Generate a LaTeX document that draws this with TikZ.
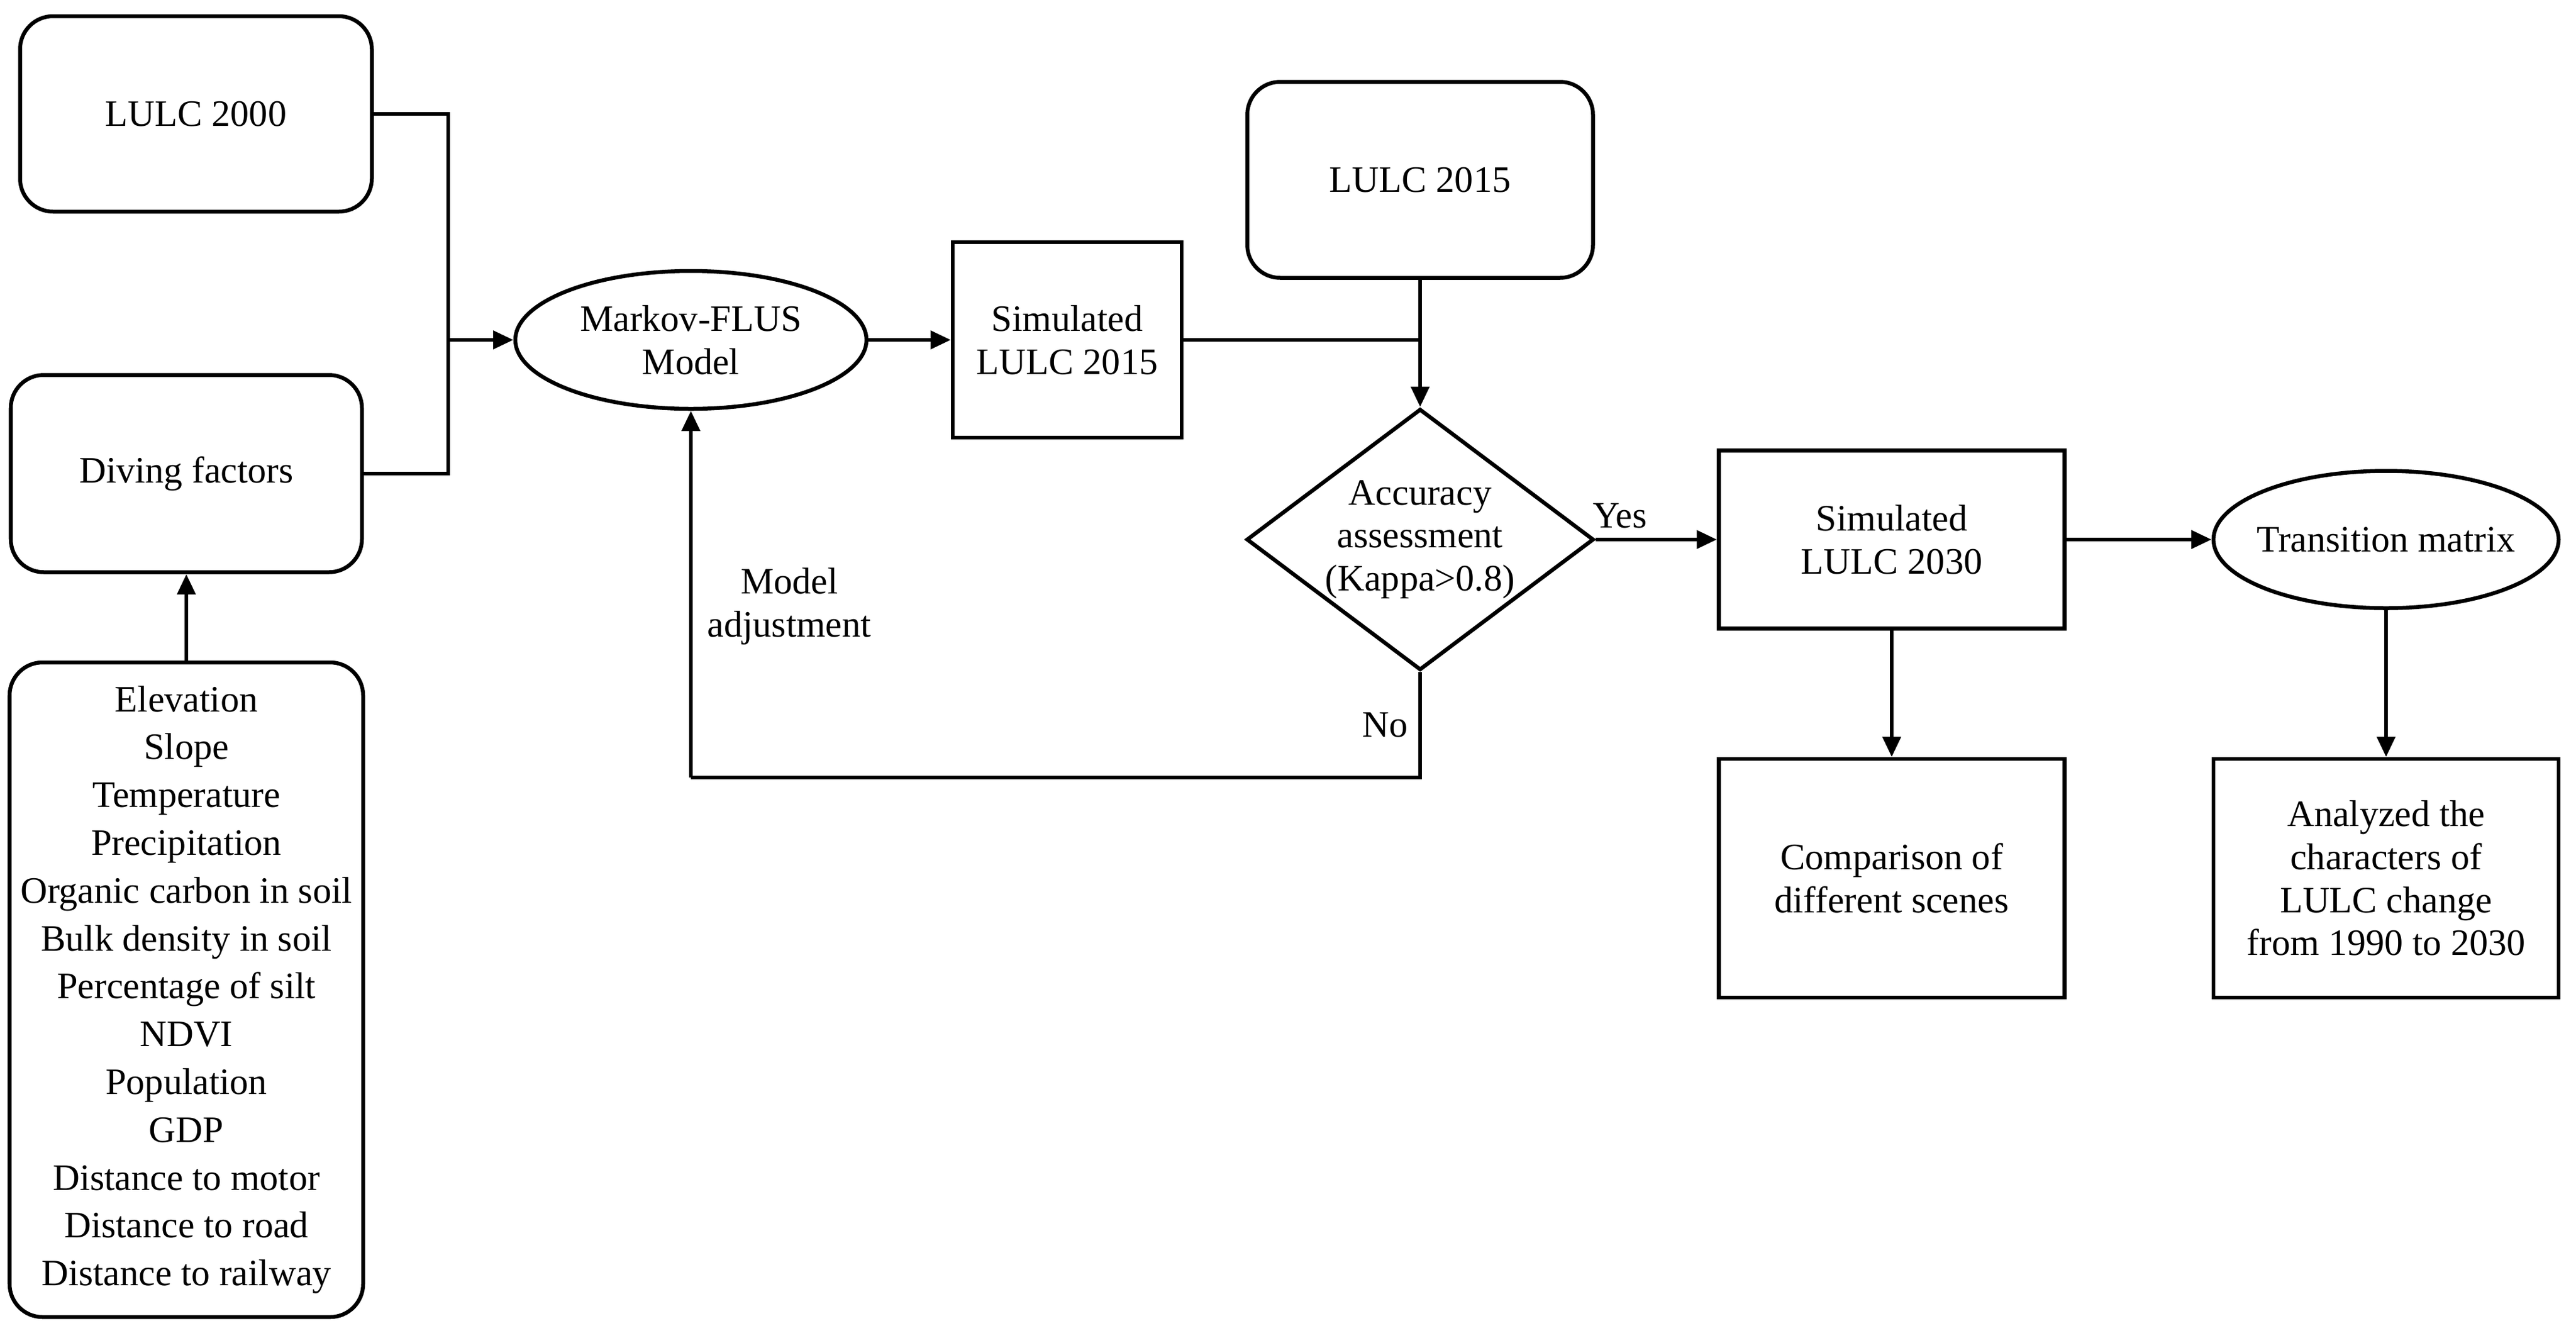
\documentclass[tikz,border=0pt]{standalone}
\usepackage{fontspec}
\setmainfont{Liberation Serif}
\usetikzlibrary{shapes.geometric,arrows.meta}
\begin{document}
\begin{tikzpicture}[line width=1.85pt, >={Triangle[length=9.6pt,width=8.5pt]},
   every node/.style={font=\fontsize{17.7}{20.4}\selectfont, align=center, inner sep=0pt},
   rbox/.style={draw, rounded corners=0.55cm},
   sbox/.style={draw},
   oval/.style={draw, ellipse, inner xsep=-0.3cm},
   decide/.style={draw, diamond, aspect=1.33}
   ]
   \useasboundingbox (0,0) rectangle (42.99,-22.31);

   \path (3.27,-1.90) node[rbox, minimum width=5.87cm, minimum height=3.26cm] (lulcA) {LULC 2000}
   (3.11,-7.90) node[rbox, minimum width=5.86cm, minimum height=3.29cm] (drive) {Diving factors};
   \path (3.11,-16.51) node[rbox, minimum width=5.90cm, minimum height=10.92cm,
      font=\fontsize{17.7}{22.7}\selectfont] (factor)
      {Elevation\\Slope\\Temperature\\Precipitation\\Organic carbon in soil\\Bulk density in soil\\Percentage of silt\\NDVI\\Population\\GDP\\Distance to motor\\Distance to road\\Distance to railway};

   \path (11.53,-5.67) node[oval, minimum width=5.86cm, minimum height=2.30cm] (markov) {Markov-FLUS\\Model}
   (17.81,-5.67) node[sbox, minimum width=3.82cm, minimum height=3.26cm] (simA) {Simulated\\LULC 2015};
   \path (23.70,-3.00) node[rbox, minimum width=5.77cm, minimum height=3.27cm] (lulcB) {LULC 2015}
   (23.70,-9.00) node[decide, minimum width=5.77cm, minimum height=4.35cm] (acc) {Accuracy\\assessment\\(Kappa>0.8)};

   \path (31.57,-9.00) node[sbox, minimum width=5.77cm, minimum height=2.97cm] (simB) {Simulated\\LULC 2030}
   (39.82,-9.00) node[oval, minimum width=5.76cm, minimum height=2.29cm] (trans) {Transition matrix};
   \path (31.57,-14.65) node[sbox, minimum width=5.77cm, minimum height=3.98cm] (comp) {Comparison of\\different scenes}
   (39.82,-14.65) node[sbox, minimum width=5.76cm, minimum height=3.98cm] (anal) {Analyzed the\\characters of\\LULC change\\from 1990 to 2030};

   \coordinate (joinA) at (7.48,-5.67);
   \coordinate (noA) at (23.70,-12.97);
   \coordinate (noB) at (11.53,-12.97);

   % inputs to the model
   \draw (lulcA.east) -- (lulcA.east -| joinA) -- (drive.east -| joinA) -- (drive.east);
   \draw[->] (joinA) -- (markov.west);
   \draw[->] (factor) -- (drive);

   \draw[->] (markov) -- (simA);
   \draw (simA.east) -- (simA.east -| acc.north);
   \draw[->] (lulcB) -- (acc);

   \draw[->] (acc.east) -- node[pos=0.2, above=4.5pt] {Yes} (simB.west);
   \draw (acc.south) -- node[left=5pt] {No} (noA) -- (noB);
   \draw[->] (noB) -- node[pos=0.467, right=7pt] {Model\\adjustment} (markov.south);

   \draw[->] (simB) -- (trans);
   \draw[->] (simB) -- (comp);
   \draw[->] (trans) -- (anal);
\end{tikzpicture}
\end{document}
